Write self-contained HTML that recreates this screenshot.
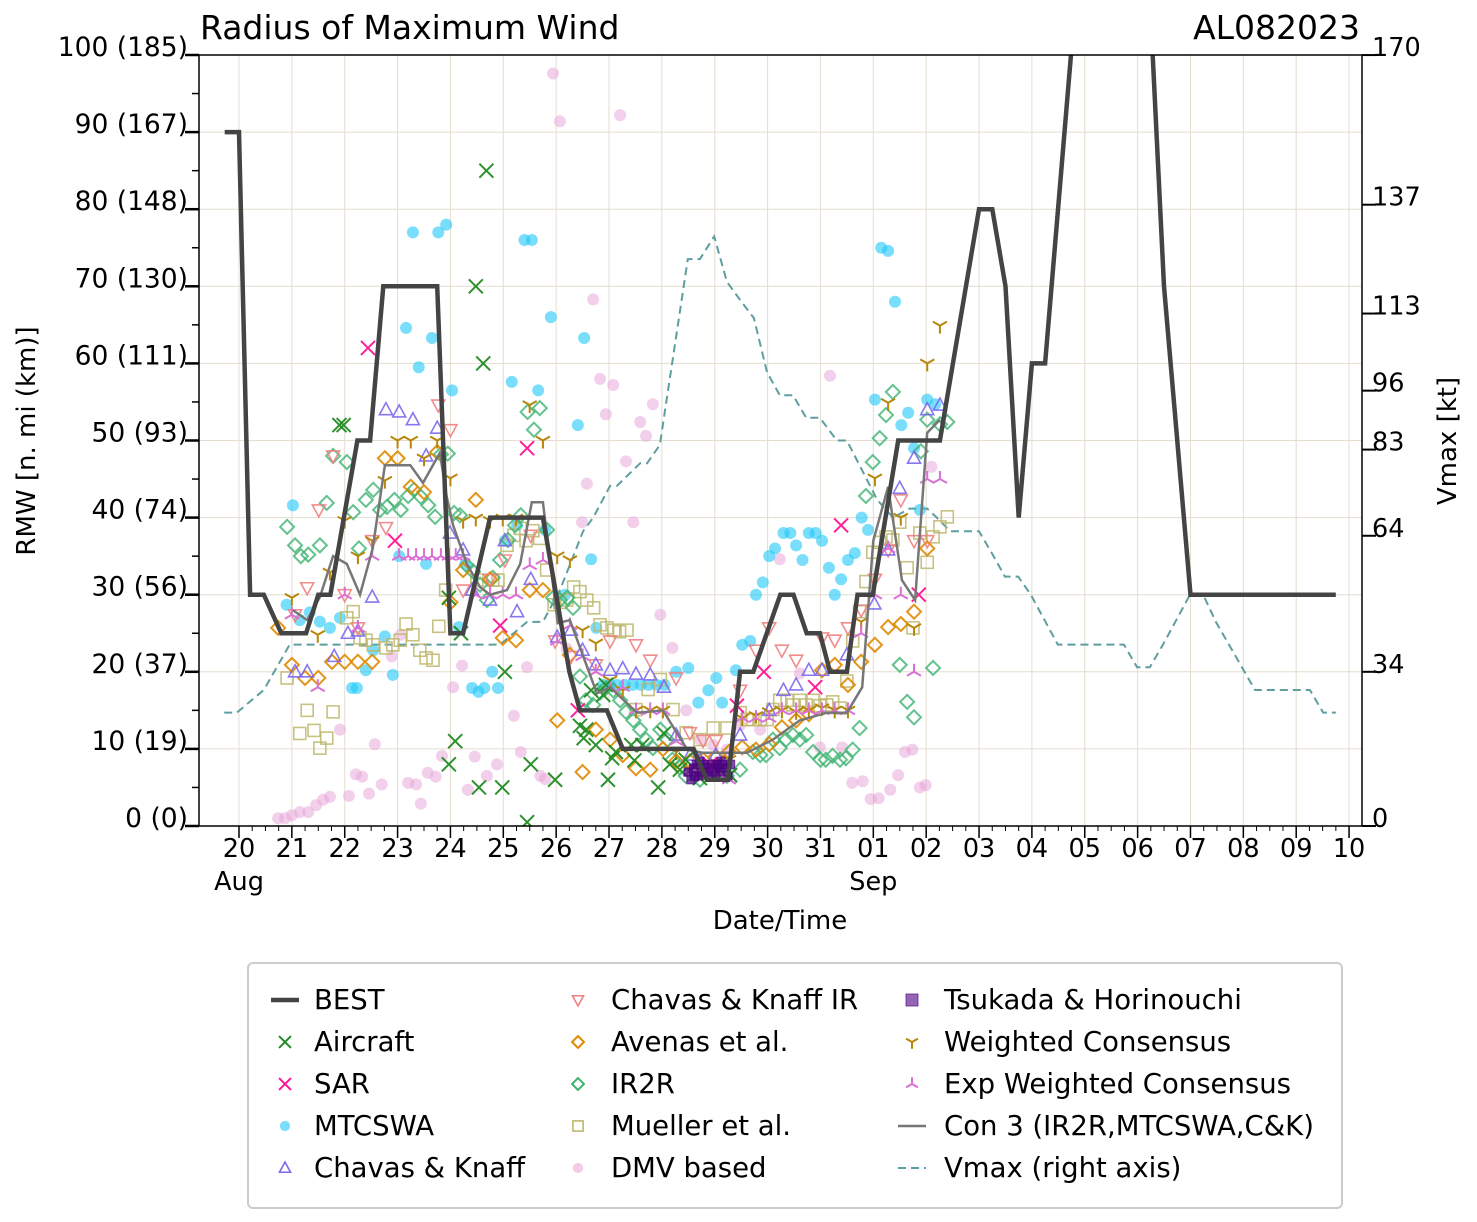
<!DOCTYPE html>
<html><head><meta charset="utf-8">
<style>
html,body{margin:0;padding:0;background:#fff;}
svg{display:block;font-family:"DejaVu Sans","Liberation Sans",sans-serif;}
</style></head>
<body>
<svg id="chart" width="1477" height="1222" viewBox="0 0 1477 1222" xmlns="http://www.w3.org/2000/svg">
<defs><clipPath id="plotclip"><rect x="199" y="55" width="1163" height="771"/></clipPath></defs>
<rect x="0" y="0" width="1477" height="1222" fill="#fff"/>
<g id="grid"></g>
<g id="series" clip-path="url(#plotclip)"></g>
<rect x="199" y="55" width="1163" height="771" fill="none" stroke="#000" stroke-width="1.5"/>
<g id="axes"></g>
<text x="200" y="39" font-size="33">Radius of Maximum Wind</text>
<text x="1360" y="39" font-size="33" text-anchor="end">AL082023</text>
<text x="780" y="929" font-size="26" text-anchor="middle">Date/Time</text>
<text x="0" y="0" font-size="26" text-anchor="middle" transform="translate(35,441) rotate(-90)">RMW [n. mi (km)]</text>
<text x="0" y="0" font-size="26" text-anchor="middle" transform="translate(1456,441) rotate(-90)">Vmax [kt]</text>
<g id="legend"></g>
</svg>
<script>
const bestDays=[-0.27,0,0.21,0.47,0.8,1.27,1.5,1.73,2.24,2.48,2.73,3.75,4.0,4.24,4.75,5.75,6.25,6.45,6.96,7.26,8.6,8.85,9.0,9.25,9.48,9.73,10.24,10.49,10.74,10.99,11.18,11.5,11.7,11.99,12.47,13.26,14.0,14.25,14.5,14.75,15.0,15.25,15.8,17.25,17.5,18.0,20.75];
const bestRmw=[90,90,30,30,25,25,30,30,50,50,70,70,25,25,40,40,20,15,15,10,10,6,6,6,20,20,30,30,25,25,20,20,30,30,50,50,80,80,70,40,60,60,105,105,70,30,30];
const vmaxDays=[-0.28,-0.04,0.47,0.96,4.94,5.45,5.75,6.07,6.51,6.7,7.02,7.15,7.59,7.72,7.96,8.49,8.72,8.99,9.23,9.48,9.74,9.99,10.23,10.48,10.73,10.99,11.31,11.5,12.07,12.37,12.69,13.02,13.2,13.45,14.0,14.25,14.49,14.74,14.98,15.49,16.74,16.99,17.23,17.48,17.99,18.24,18.48,19.22,20.26,20.51,20.75];
const vmaxKt=[25,25,30,40,40,45,45,52,65,68,75,75,80,80,84,125,125,130,120,116,112,100,95,95,90,90,85,85,72,68,70,70,68,65,65,60,55,55,51,40,40,35,35,40,51,51,45,30,30,25,25];
const con3Days=[1.02,1.29,1.53,1.78,2.04,2.29,2.53,2.76,3.24,3.48,3.8,3.93,4.05,4.31,4.56,4.75,5.07,5.32,5.54,5.75,6.03,6.26,6.77,7.02,7.53,8.02,8.48,8.78,9.23,9.61,10.1,10.61,11.12,11.5,11.79,12.0,12.28,12.54,12.79,13.02,13.26];
const con3Rmw=[28,26.7,29.7,35,34,30,36,46.8,46.8,44.5,48.4,42.7,39,34,31,30,30.6,34,42,42,26.3,26.7,17.2,18,14.7,15,9.9,9.5,9.5,9.5,11.2,13.7,14.7,14.7,18,37,44,31.9,29.3,51,52.7];
const aircraft=[[1.9,52],[1.98,52],[3.97,29.6],[4.09,11],[3.97,8],[4.2,25],[4.48,70],[4.54,5],[4.62,60],[4.68,85],[4.98,5],[5.03,20],[5.45,0.5],[5.52,8],[5.98,6],[6.45,13],[6.52,11.4],[6.57,12.5],[6.66,17.6],[6.75,10.5],[6.89,17],[6.94,18.3],[6.98,6],[7.06,8.8],[7.13,9.6],[7.42,10.5],[7.48,8.5],[7.63,10.5],[7.93,5],[8.04,12],[8.15,8],[8.34,7.3],[8.45,8.6],[8.72,6.2],[9.1,7.3],[9.29,6.6]];
const sar=[[2.44,62],[2.95,37],[5.45,49],[4.94,26],[6.41,15],[8.91,8],[9.42,15.6],[9.93,20],[10.9,18],[11.39,39],[12.86,30]];
const mtcswa=[[1.02,41.6],[0.9,28.7],[1.15,26.7],[1.34,27.7],[1.53,26.5],[1.72,25.7],[1.91,27],[2.14,17.9],[2.23,17.9],[2.4,20.2],[2.54,22.8],[2.76,24.6],[2.91,19.6],[3.03,35],[3.16,64.6],[3.29,77],[3.4,59.5],[3.54,34],[3.65,63.3],[3.77,77],[3.92,78],[4.03,56.5],[4.16,25.8],[4.28,34],[4.41,17.9],[4.53,17.4],[4.64,17.9],[4.79,20],[4.9,17.9],[5.03,37],[5.16,57.6],[5.26,39],[5.4,76],[5.54,76],[5.66,56.5],[5.79,38.4],[5.9,66],[6.17,30],[6.41,52],[6.53,63.3],[6.66,34.6],[6.76,25.7],[6.89,18.3],[7.02,18.3],[7.15,18.3],[7.3,18.3],[7.45,18.3],[7.6,18.3],[7.75,18.3],[7.9,18.3],[8.05,18.3],[8.27,20],[8.5,20.5],[8.69,16],[8.88,17.6],[9.03,19.2],[9.14,16],[9.4,20.2],[9.52,23.5],[9.67,24],[9.78,30],[9.91,31.6],[10.03,35],[10.14,36],[10.3,38],[10.43,38],[10.54,36.4],[10.66,34.5],[10.78,38],[10.91,38],[11.03,37],[11.16,33.5],[11.27,30],[11.39,32],[11.52,34.5],[11.65,35.4],[11.78,40],[11.9,38.4],[12.03,55.3],[12.15,75],[12.28,74.6],[12.41,68],[12.53,52],[12.66,53.6],[12.77,49],[12.88,41],[13.02,55.3],[13.17,54.7]];
const chavasKnaff=[[1.06,20],[1.29,20],[1.8,22],[2.06,25],[2.25,25.3],[2.52,29.7],[2.78,54],[3.03,53.7],[3.29,52.7],[3.54,48],[3.75,51.6],[3.99,38],[4.24,35.8],[4.41,30.6],[4.75,29.3],[5.03,37],[5.26,27.8],[5.52,32],[6.02,24.5],[6.28,25.4],[6.5,22.8],[6.75,20.9],[7.02,20.2],[7.26,20.4],[7.51,19.7],[7.78,19.6],[8.04,18],[8.27,11.8],[8.53,9.2],[8.72,8.6],[9.02,9.2],[9.48,11.8],[10.03,15],[10.3,17.6],[10.54,18.3],[10.78,20.2],[11.03,20.2],[11.5,22.2],[12.02,28.8],[12.28,35.8],[12.5,43.8],[12.77,47.7],[13.02,54],[13.26,54.6]];
const chavasKnaffIR=[[1.06,27.4],[1.29,30.9],[1.51,41],[1.78,48],[2.0,30],[2.25,25.7],[2.52,37],[2.78,38.7],[3.77,54.6],[4.0,51.4],[4.24,30.6],[4.75,32],[5.03,34.5],[5.52,37.7],[5.98,24],[6.28,22],[6.75,20.9],[7.02,24],[7.51,23.5],[7.78,21.5],[8.27,19.2],[8.53,12.1],[8.78,11.1],[9.02,11.1],[9.48,17.6],[9.78,22.8],[10.03,25.7],[10.27,22.8],[10.54,21.5],[11.03,24.4],[11.27,24.1],[11.52,25.7],[11.77,28],[12.03,32],[12.28,35.8],[12.52,42.3],[12.77,37],[13.02,37]];
const avenas=[[0.74,25.7],[1.0,20.9],[1.25,19.2],[1.5,19.2],[1.76,21.3],[2.0,21.3],[2.25,21.3],[2.52,21.3],[2.76,47.7],[3.0,47.7],[3.25,44],[3.5,43.3],[3.75,48.5],[4.0,29],[4.24,33.2],[4.48,42.3],[4.75,32],[4.99,24.4],[5.24,24.1],[5.5,30.6],[5.75,30.6],[6.02,13.7],[6.26,22.2],[6.5,7],[6.75,12.5],[7.02,11.2],[7.26,9.2],[7.51,7.5],[7.78,7.3],[8.02,10],[8.27,8.4],[8.53,8.4],[8.78,8.6],[9.02,9],[9.27,9.6],[9.52,10.2],[9.78,9.9],[10.03,10.6],[10.27,12.8],[10.54,13.7],[10.78,14.5],[11.03,20.2],[11.27,20.9],[11.52,18.3],[11.77,21.3],[12.03,23.5],[12.28,25.8],[12.52,26.2],[12.77,27.8],[13.02,36]];
const ir2r=[[0.91,38.8],[1.06,36.4],[1.17,35],[1.31,35.2],[1.53,36.4],[1.66,41.9],[1.78,48],[2.04,47.2],[2.27,36],[2.16,40.7],[2.4,42.3],[2.54,43.6],[2.67,41],[2.8,41.4],[2.94,42.3],[3.06,41],[3.2,42.8],[3.31,43.6],[3.44,42.7],[3.58,41.6],[3.71,40.1],[3.82,48.2],[3.95,48.3],[4.07,40.6],[4.18,40.3],[4.31,33.8],[4.43,33],[4.56,31.3],[4.69,29.3],[4.8,32.2],[4.94,34.5],[5.09,37.1],[5.22,39],[5.33,40.3],[5.46,53.7],[5.58,51.4],[5.69,54.2],[5.83,38.4],[5.94,29.6],[6.07,29.3],[6.21,29.6],[6.32,28.3],[6.45,19.4],[6.56,16.3],[6.7,15.7],[6.83,17.3],[6.94,17.9],[7.08,17.6],[7.21,16.3],[7.32,14.8],[7.46,13.7],[7.59,12.5],[7.7,11.2],[7.83,10.1],[7.97,12.5],[8.1,11.2],[8.2,8.6],[8.34,7.6],[8.45,6.5],[8.72,6],[8.97,7.3],[9.23,6.5],[9.48,7.3],[9.72,9.6],[9.86,9.2],[9.97,9.2],[10.1,11.2],[10.23,10.1],[10.35,11.2],[10.48,11.8],[10.61,11.2],[10.73,11.8],[10.86,9.6],[11.0,8.6],[11.1,8.6],[11.23,9.1],[11.37,8.6],[11.48,8.8],[11.61,9.9],[11.74,12.7],[11.86,42.8],[11.99,47.2],[12.12,50.3],[12.24,53.3],[12.37,56.3],[12.5,20.9],[12.64,16.1],[12.77,14.1],[12.9,48.6],[13.02,52.7],[13.13,20.5],[13.26,52.1],[13.4,52.4]];
const mueller=[[0.91,19.2],[1.15,12],[1.29,15],[1.42,12.4],[1.53,10.1],[1.66,11.4],[1.78,14.8],[2.04,27],[2.16,27.8],[2.29,24.4],[2.4,24.1],[2.54,23.5],[2.78,23.1],[2.91,23.5],[3.05,24.1],[3.16,26.2],[3.29,24.8],[3.42,22.8],[3.54,21.8],[3.67,21.5],[3.78,25.9],[3.91,30.6],[4.5,31.9],[4.8,31.9],[4.9,31.9],[5.07,36.4],[5.2,37.7],[5.32,38.6],[5.43,37],[5.56,38.3],[5.69,37.3],[5.82,33.2],[5.96,28.7],[6.07,29],[6.2,29.3],[6.33,31],[6.45,30.4],[6.58,29.3],[6.71,28.3],[6.83,26.1],[6.96,25.7],[7.09,25.4],[7.2,25.2],[7.34,25.4],[7.51,15.1],[7.74,17.7],[7.97,19],[8.21,15.1],[8.46,12.1],[8.72,11.2],[8.97,12.7],[9.23,12.7],[9.48,14.7],[9.61,13.8],[9.72,13.8],[9.86,13.8],[9.99,13.8],[10.1,15.1],[10.23,16.3],[10.37,16.3],[10.48,15.7],[10.61,16.3],[10.73,15.7],[10.86,16.3],[10.99,15.6],[11.12,15.7],[11.23,16.1],[11.37,15.3],[11.5,18.8],[11.61,24],[11.74,27.8],[11.86,31.7],[11.99,35.5],[12.12,36.8],[12.24,37.5],[12.37,37.1],[12.5,39.4],[12.64,33.5],[12.75,25.7],[12.88,38],[13.02,34.2],[13.13,37.5],[13.26,38.8],[13.4,40.1]];
const dmv=[[0.74,1],[0.87,1],[1.0,1.4],[1.15,1.8],[1.31,1.8],[1.46,2.7],[1.59,3.4],[1.72,3.8],[1.91,12.5],[2.08,3.9],[2.21,6.7],[2.33,6.4],[2.46,4.2],[2.57,10.6],[2.7,5.4],[2.89,22],[3.06,24.8],[3.2,5.6],[3.35,5.4],[3.44,2.9],[3.57,6.9],[3.72,6.4],[3.84,9.1],[4.05,18],[4.22,20.8],[4.33,4.7],[4.46,9],[4.69,6.5],[4.88,8],[5.2,14.3],[5.33,9.6],[5.45,20.6],[5.7,6.5],[5.79,6.1],[5.94,97.6],[6.07,91.4],[6.2,23],[6.49,39.4],[6.58,44.4],[6.7,68.3],[6.83,58],[6.94,53.4],[7.08,57.2],[7.21,92.2],[7.32,47.3],[7.46,39.4],[7.59,52.4],[7.7,50.6],[7.83,54.7],[7.97,27.4],[8.2,23.1],[8.46,15],[8.72,11.2],[8.97,10.5],[9.23,9.9],[9.48,13.1],[9.86,12.5],[10.23,34.6],[10.61,19.8],[10.99,10.2],[11.18,58.4],[11.41,10.2],[11.6,5.6],[11.8,5.8],[11.95,3.5],[12.1,3.6],[12.32,4.7],[12.47,6.6],[12.6,9.6],[12.74,9.9],[12.88,5],[12.99,5.3],[13.1,46.6]];
const tsukada=[[8.5,7],[8.55,6],[8.6,7.5],[8.65,8],[8.7,6.5],[8.75,7],[8.8,8],[8.85,7],[8.9,6.5],[8.95,8],[9.0,7.5],[9.05,8],[9.1,7],[9.15,8],[9.2,7.5],[9.25,6.5],[9.3,8],[8.62,6.4],[8.82,7.6],[9.02,6.8],[9.12,8.4],[8.72,8.4]];
const weighted=[[1.0,29.6],[1.49,24.8],[1.72,32.9],[2.0,39.6],[2.25,35],[2.52,37],[2.76,44.8],[3.0,50],[3.25,50],[3.5,47.7],[3.75,50],[4.0,45.1],[4.24,39.6],[4.48,39.9],[4.75,39.6],[4.99,39.9],[5.24,39.9],[5.5,54.6],[5.75,50],[6.02,35],[6.26,34.5],[6.5,25.4],[6.75,23.7],[7.02,18.9],[7.26,17.6],[7.51,15],[7.78,15],[8.02,15],[8.27,9.6],[8.53,7.3],[8.78,6.9],[9.02,7.3],[9.27,8.6],[9.52,14],[9.78,14.3],[10.03,14.8],[10.27,15],[10.54,14.8],[10.78,15],[11.03,15.3],[11.27,15],[11.52,15],[11.77,26.5],[12.03,45.1],[12.28,54.9],[12.52,40],[12.77,25.7],[13.02,60],[13.26,64.9]];
const expWeighted=[[1.0,27.4],[1.49,18],[2.0,30],[2.25,25.7],[2.52,35],[3.03,35],[3.2,35],[3.35,35],[3.5,35],[3.65,35],[3.82,35],[3.97,35],[4.1,35],[4.24,35],[4.48,30],[4.75,30],[4.99,30],[5.24,30],[5.5,33.8],[5.75,34.5],[6.02,24],[6.26,26],[6.5,22],[6.75,20],[7.02,18],[7.26,18],[7.51,15],[7.78,15],[8.02,15],[8.27,11],[8.53,7],[8.78,7],[9.02,7],[9.27,6],[9.52,14],[9.78,14],[10.03,14],[10.27,15],[10.54,15],[10.78,15],[11.03,15],[11.27,15],[11.52,15],[11.77,25],[12.03,30],[12.28,36],[12.52,30],[12.77,20],[13.02,45],[13.26,45]];
const xTickLabels=['20','21','22','23','24','25','26','27','28','29','30','31','01','02','03','04','05','06','07','08','09','10'];
const yTickLabels=['0 (0)','10 (19)','20 (37)','30 (56)','40 (74)','50 (93)','60 (111)','70 (130)','80 (148)','90 (167)','100 (185)'];
const y2Ticks=[0,34,64,83,96,113,137,170];

const NS='http://www.w3.org/2000/svg';
const X0=239, DX=52.86, Y0=826, DY=7.71, DK=4.535;
function xs(d){return X0+d*DX;}
function ys(v){return Y0-v*DY;}
function yk(k){return Y0-k*DK;}
function mk(tag,attrs,parent){const e=document.createElementNS(NS,tag);for(const k in attrs)e.setAttribute(k,attrs[k]);parent.appendChild(e);return e;}
const grid=document.getElementById('grid'),ser=document.getElementById('series'),axes=document.getElementById('axes'),leg=document.getElementById('legend');

for(let i=0;i<xTickLabels.length;i++){const g=mk('line',{x1:xs(i),x2:xs(i),y1:55,y2:826,stroke:'#e4ddd0','stroke-width':1},grid);

}
for(let i=1;i<10;i++){const g=mk('line',{x1:199,x2:1362,y1:ys(i*10),y2:ys(i*10),stroke:'#e4ddd0','stroke-width':1},grid);

}

for(let i=0;i<xTickLabels.length;i++){
  mk('line',{x1:xs(i),x2:xs(i),y1:826,y2:838,stroke:'#000','stroke-width':1.5},axes);
  for(let q=1;q<4;q++){const xx=xs(i+q/4);if(xx<1362)mk('line',{x1:xx,x2:xx,y1:826,y2:831,stroke:'#000','stroke-width':1},axes);}
  const t=mk('text',{x:xs(i),y:857,'font-size':25.5,'text-anchor':'middle'},axes);t.textContent=xTickLabels[i];
  
  
}
for(let d of [0,12]){const t=mk('text',{x:xs(d),y:890,'font-size':25.5,'text-anchor':'middle'},axes);t.textContent=d===0?'Aug':'Sep';

}
for(let i=0;i<=20;i++){const v=i*5;const major=i%2===0;
  mk('line',{x1:major?185:192,x2:199,y1:ys(v),y2:ys(v),stroke:'#000','stroke-width':major?2.5:1.5},axes);}
for(let i=0;i<yTickLabels.length;i++){const t=mk('text',{x:188,y:ys(i*10)+1,'font-size':26.5,'text-anchor':'end'},axes);
  t.textContent=yTickLabels[i];
  
  }
for(const k of y2Ticks){mk('line',{x1:1362,x2:1376,y1:yk(k),y2:yk(k),stroke:'#000','stroke-width':2},axes);
  const t=mk('text',{x:1372,y:yk(k)+1,'font-size':25.5},axes);t.textContent=String(k);
  
  }

function marker(type,cx,cy,parent,s){s=s||1;let g;
 if(type==='x'){g=mk('path',{d:`M${cx-7*s},${cy-7*s}L${cx+7*s},${cy+7*s}M${cx-7*s},${cy+7*s}L${cx+7*s},${cy-7*s}`,fill:'none','stroke-width':2},parent);}
 else if(type==='o'){g=mk('circle',{cx:cx,cy:cy,r:6*s},parent);}
 else if(type==='^'){g=mk('path',{d:`M${cx},${cy-7*s}L${cx+6.5*s},${cy+5*s}L${cx-6.5*s},${cy+5*s}Z`,fill:'none','stroke-width':1.6},parent);}
 else if(type==='v'){g=mk('path',{d:`M${cx},${cy+7*s}L${cx+6.5*s},${cy-5*s}L${cx-6.5*s},${cy-5*s}Z`,fill:'none','stroke-width':1.6},parent);}
 else if(type==='D'){g=mk('path',{d:`M${cx},${cy-7*s}L${cx+7*s},${cy}L${cx},${cy+7*s}L${cx-7*s},${cy}Z`,fill:'none','stroke-width':2},parent);}
 else if(type==='s'){g=mk('rect',{x:cx-6*s,y:cy-6*s,width:12*s,height:12*s,fill:'none','stroke-width':1.6},parent);}
 else if(type==='S'){g=mk('rect',{x:cx-5.5*s,y:cy-5.5*s,width:11*s,height:11*s},parent);}
 else if(type==='Y'){g=mk('path',{d:`M${cx},${cy}L${cx},${cy+8*s}M${cx},${cy}L${cx-7*s},${cy-4*s}M${cx},${cy}L${cx+7*s},${cy-4*s}`,fill:'none','stroke-width':2},parent);}
 else if(type==='L'){g=mk('path',{d:`M${cx},${cy}L${cx},${cy-8*s}M${cx},${cy}L${cx-7*s},${cy+4*s}M${cx},${cy}L${cx+7*s},${cy+4*s}`,fill:'none','stroke-width':2},parent);}
 return g;}
function styleMarker(g,type,color,alpha){
 if(type==='o'||type==='S'){g.setAttribute('fill',color);g.setAttribute('fill-opacity',alpha);if(type==='S'){g.setAttribute('stroke',color);g.setAttribute('stroke-opacity',alpha);}}
 else {g.setAttribute('stroke',color);g.setAttribute('stroke-opacity',alpha);}}
function scatter(data,type,color,alpha,name,s){
 const grp=mk('g',{},ser);
 
 
 for(const p of data){const g=marker(type,xs(p[0]),ys(p[1]),grp,s);styleMarker(g,type,color,alpha);
  
  }}
function polyline(days,vals,yf,attrs,name){
 let d='';for(let i=0;i<days.length;i++)d+=(i?'L':'M')+xs(days[i]).toFixed(1)+','+yf(vals[i]).toFixed(1);
 const p=mk('path',Object.assign({d:d,fill:'none'},attrs),ser);
 
 }

polyline(vmaxDays,vmaxKt,yk,{stroke:'#5f9ea0','stroke-width':2,'stroke-dasharray':'8,5'},'vmax-line');
scatter(dmv,'o','#e8a8d8',0.55,'dmv');
scatter(mtcswa,'o','#1ec8f8',0.6,'mtcswa');
scatter(mueller,'s','#bdb76b',0.85,'mueller');
scatter(ir2r,'D','#3cb371',0.8,'ir2r');
scatter(avenas,'D','#e08a00',0.9,'avenas');
scatter(chavasKnaffIR,'v','#f08080',0.9,'chavas-knaff-ir');
scatter(chavasKnaff,'^','#7b68ee',0.9,'chavas-knaff');
scatter(weighted,'Y','#b8860b',1,'weighted-consensus');
scatter(expWeighted,'L','#da70d6',1,'exp-weighted-consensus');
scatter(aircraft,'x','#228b22',0.95,'aircraft');
scatter(sar,'x','#ff1493',0.95,'sar');
scatter(tsukada,'S','#4b0082',0.7,'tsukada',0.75);
polyline(con3Days,con3Rmw,ys,{stroke:'#777','stroke-width':2.5},'con3-line');
polyline(bestDays,bestRmw,ys,{stroke:'#444','stroke-width':4.5,'stroke-linejoin':'miter'},'best-track-line');

const lb=mk('rect',{x:248,y:963,width:1094,height:245,rx:5,fill:'#fff',stroke:'#ccc','stroke-width':2},leg);


const legendEntries=[
 [285,314,1000,'line','BEST'],[285,314,1042,'x','Aircraft'],[285,314,1084,'xs','SAR'],[285,314,1126,'o','MTCSWA'],[285,314,1168,'^','Chavas & Knaff'],
 [578,611,1000,'v','Chavas & Knaff IR'],[578,611,1042,'D','Avenas et al.'],[578,611,1084,'Dg','IR2R'],[578,611,1126,'s','Mueller et al.'],[578,611,1168,'od','DMV based'],
 [912,944,1000,'S','Tsukada & Horinouchi'],[912,944,1042,'Y','Weighted Consensus'],[912,944,1084,'L','Exp Weighted Consensus'],[912,944,1126,'gline','Con 3 (IR2R,MTCSWA,C&K)'],[912,944,1168,'dash','Vmax (right axis)']];
for(const e of legendEntries){
 const [mx,tx,y,t,label]=e;const g=mk('g',{},leg);
 
 
 if(t==='line')mk('line',{x1:271,x2:299,y1:y,y2:y,stroke:'#444','stroke-width':4.5},g);
 else if(t==='gline')mk('line',{x1:898,x2:926,y1:y,y2:y,stroke:'#777','stroke-width':2.5},g);
 else if(t==='dash')mk('line',{x1:898,x2:926,y1:y,y2:y,stroke:'#5f9ea0','stroke-width':2,'stroke-dasharray':'8,5'},g);
 else{const map={x:['x','#228b22',1],xs:['x','#ff1493',1],o:['o','#1ec8f8',0.6],'^':['^','#7b68ee',1],v:['v','#f08080',1],D:['D','#e08a00',1],Dg:['D','#3cb371',1],s:['s','#bdb76b',1],od:['o','#e8a8d8',0.6],S:['S','#4b0082',0.6],Y:['Y','#b8860b',1],L:['L','#da70d6',1]};
  const m=map[t];const mm=marker(m[0],mx,y,g,t==='S'?1.1:0.85);styleMarker(mm,m[0],m[1],m[2]);}
 const tt=mk('text',{x:tx,y:y+9,'font-size':27.5},g);tt.textContent=label;
}
</script>
</body></html>
